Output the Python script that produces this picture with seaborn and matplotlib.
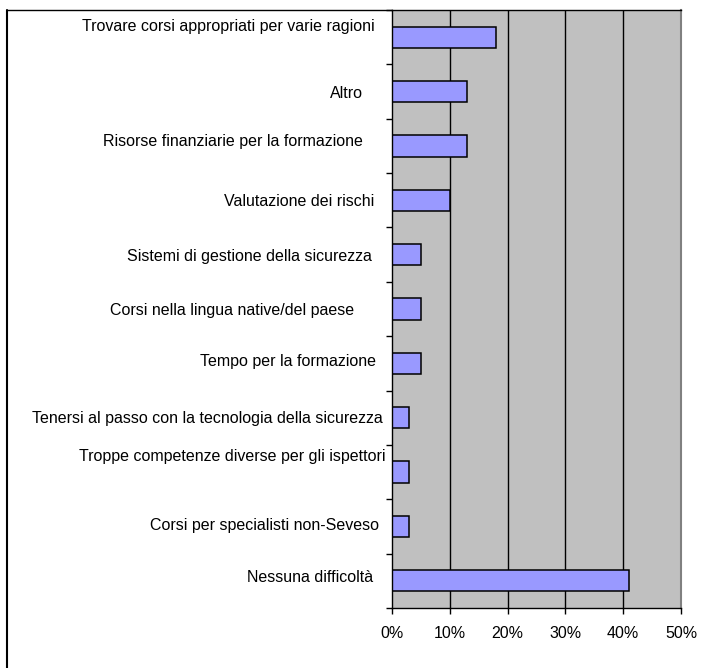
import numpy as np
import pandas as pd
import matplotlib
matplotlib.use("Agg")
import matplotlib.pyplot as plt
from matplotlib.transforms import ScaledTranslation
from matplotlib.ticker import FuncFormatter
import seaborn as sns

# Difficulties reported in training (share of respondents, %)
categories = [
    "Trovare corsi appropriati per varie ragioni",
    "Altro",
    "Risorse finanziarie per la formazione",
    "Valutazione dei rischi",
    "Sistemi di gestione della sicurezza",
    "Corsi nella lingua native/del paese",
    "Tempo per la formazione",
    "Tenersi al passo con la tecnologia della sicurezza",
    "Troppe competenze diverse per gli ispettori",
    "Corsi per specialisti non-Seveso",
    "Nessuna difficoltà",
]
shares = [18, 13, 13, 10, 5, 5, 5, 3, 3, 3, 41]
x_ticks = [0, 10, 20, 30, 40, 50]

# label nudges (pixels: right/left, up/down) to reproduce the wrapped-label layout
label_dx = [-8, -20, -20, -9, -11, -29, -7, 0, 3, -4, -10]
label_dy = [12, 0, 6, 0, 0, 0, 3, 1, 17, 2, 5]

sns.set_style("white")
plt.rcParams["font.family"] = ["Liberation Sans", "DejaVu Sans"]
plt.rcParams["text.color"] = "black"
plt.rcParams["xtick.color"] = "black"
plt.rcParams["ytick.color"] = "black"

DPI = 100
W, H = 704, 668
fig = plt.figure(figsize=(W / DPI, H / DPI), dpi=DPI)
ax = fig.add_axes([392 / W, 1 - 608 / H, (681 - 392) / W, (608 - 10) / H])

df = pd.DataFrame({"categoria": categories, "quota": shares})
sns.barplot(data=df, x="quota", y="categoria", orient="h", color="#9999FF",
            saturation=1, edgecolor="black", linewidth=1.1, width=0.39, ax=ax)

ax.set_facecolor("#C0C0C0")
ax.set_xlim(x_ticks[0], x_ticks[-1])
ax.set_xticks(x_ticks)
ax.xaxis.set_major_formatter(FuncFormatter(lambda v, p: f"{v:.0f}%"))
ax.set_xlabel("")
ax.set_ylabel("")

# vertical grid lines
for v in x_ticks[1:-1]:
    ax.axvline(v, color="black", lw=1.0, zorder=0.5)
ax.set_axisbelow(True)

for side in ["left", "bottom", "top"]:
    ax.spines[side].set_visible(True)
    ax.spines[side].set_color("black")
    ax.spines[side].set_linewidth(1.0)
ax.spines["right"].set_visible(True)
ax.spines["right"].set_color("#808080")
ax.spines["right"].set_linewidth(1.5)

ax.tick_params(axis="x", direction="out", length=4, width=1, color="black",
               labelcolor="black", labelsize=11.5, pad=9, bottom=True)
ax.tick_params(axis="y", which="major", length=0, labelsize=11.5, pad=6.5,
               labelcolor="black", left=True)
ax.set_yticks(np.arange(-0.5, len(categories), 1), minor=True)
ax.tick_params(axis="y", which="minor", direction="out", length=4, width=1,
               color="black", left=True)

for lab, dx, dy in zip(ax.get_yticklabels(), label_dx, label_dy):
    lab.set_transform(lab.get_transform() +
                      ScaledTranslation(dx / DPI, dy / DPI, fig.dpi_scale_trans))

# outer frame of the chart area
fig.add_artist(plt.Line2D([7 / W, 7 / W], [0, 1 - 10 / H], color="black", lw=1.5))
fig.add_artist(plt.Line2D([7 / W, 392 / W], [1 - 10 / H, 1 - 10 / H], color="black", lw=1.0))

fig.savefig("out.png", dpi=DPI)
